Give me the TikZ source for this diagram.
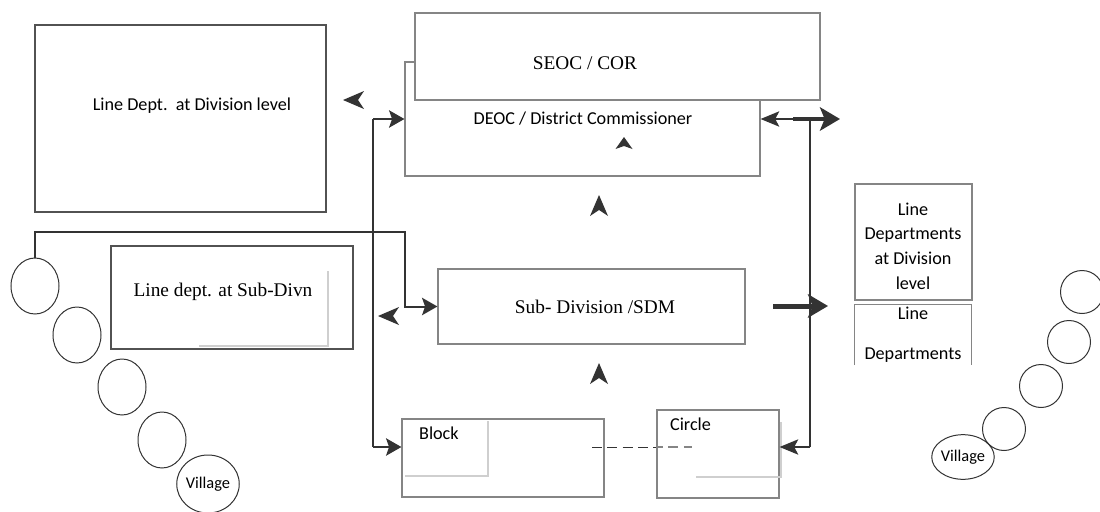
\documentclass[tikz,border=0pt]{standalone}
\usepackage{fontspec}
\setmainfont{Liberation Serif}
\newfontfamily\calibri{Carlito}
\usetikzlibrary{arrows.meta,positioning,fit,calc,shapes.geometric}
\definecolor{orgLine}{HTML}{333333}
\definecolor{orgGray}{HTML}{858585}
\definecolor{orgShade}{HTML}{CFCFCF}
\tikzset{
  % Office boxes: thin grey frame, white inside.
  org/box/.style={
    draw=orgGray, fill=white, line width=0.35mm, inner sep=0pt, text=black
  },
  org/serif/.style={font=\fontsize{16.5}{20}\selectfont},
  org/sans/.style={font=\calibri\fontsize{15.5}{21}\selectfont},
  % Villages along the chain.
  org/village/.style={
    draw=orgLine, ellipse, line width=0.3mm, inner sep=0pt,
    font=\calibri\fontsize{14}{16}\selectfont
  },
  % Links.
  org/link/.style={draw=orgLine, line width=0.6mm},
  org/arrow/.style={
    org/link, -{Stealth[length=4.6mm,width=5.2mm,inset=0.9mm]}
  },
  org/arrowD/.style={
    draw=orgLine, line width=0.4mm, -{Stealth[length=5.6mm,width=4.6mm,inset=1.2mm]}
  },
  org/arrowT/.style={
    draw=orgLine, line width=1.3mm, -{Stealth[length=6mm,width=7mm,inset=1.4mm]}
  },
  org/shade/.style={draw=orgShade, line width=0.35mm},
}

\begin{document}
\begin{tikzpicture}[x=0.3mm, y=-0.3mm,
  tiphead/.pic={\fill[orgLine] (0,0) -- (-21,9) -- (-15,0) -- (-21,-9) -- cycle;},
  tipsmall/.pic={\fill[orgLine] (0,0) -- (-12,8.5) -- (-9,0) -- (-12,-8.5) -- cycle;}]
\useasboundingbox (0,0) rectangle (1100,512);

% left column
\node[org/box, draw=orgLine!85, fit={(35,25) (326,212)}] (ldiv) {};
\node[org/sans] (ldivT) at (192,106) {Line Dept.\ \ at Division level};
\node[org/box, draw=orgLine!85, fit={(111,246) (353,349)}] (lsub) {};
\draw[org/shade] (199,346) -| (328,271);
\node[org/serif] (lsubT) at (223,292) {Line dept. at Sub-Divn};

\foreach \i/\x/\y in {1/35/286, 2/77/335, 3/122/387, 4/162/440}{
  \node[org/village, minimum width=14.4mm, minimum height=16.8mm] (vl\i) at (\x,\y) {};}
\node[org/village, minimum width=15mm, minimum height=17.4mm] (vl5) at (208,484) {Village};

% centre column
\node[org/box, fit={(405,62) (760,176)}] (deoc) {};
\node[org/sans] (deocT) at (583,119) {DEOC / District Commissioner};
\node[org/box, fit={(415,13) (820,100)}] (seoc) {};
\node[org/serif] (seocT) at (585,63) {SEOC / COR};
\node[org/box, fit={(438,269) (745,344)}] (sub) {};
\node[org/serif] (subT) at (595,307) {Sub- Division /SDM};
\node[org/box, fit={(402,419) (604,497)}] (block) {};
\draw[org/shade] (405,476) -| (488,421);
\node[org/sans, anchor=west] (blockT) at (415,433) {Block};
\node[org/box, fit={(657,410) (779,498)}] (circ) {};
\draw[org/shade] (696,477) -| (781,422);
\node[org/sans, anchor=west] (circT) at (666,424) {Circle};

% right column
\node[org/box, fit={(855,184) (972,300)}] (rdiv) {};
\node[org/sans, align=center] (rdivT) at (913,246)
     {Line\\Departments\\at Division\\level};
\node[fit={(855,305) (971,365)}, inner sep=0pt] (rdep) {};
\draw[draw=orgGray, line width=0.35mm] (rdep.south west) |- (rdep.north east) -- (rdep.south east);
\node[org/sans, align=center] (rdepT) at (913,335) {Line\\[13pt]Departments};

\foreach \i/\x/\y in {1/1082/292, 2/1069/342, 3/1041/386, 4/1004/429}{
  \node[org/village, minimum size=12.9mm] (vr\i) at (\x,\y) {};}
\node[org/village, minimum size=13.4mm] (vr5) at (963,457) {Village};

% connectors
\coordinate (lbusTop) at (373,119);
\coordinate (lbusBot) at (373,447);
\coordinate (hubR) at (405,232);
\draw[org/arrow] (vl1.north) |- (hubR) |- (sub.west);
\draw[org/link] (lbusTop) -- (lbusBot);
\draw[org/arrow] (lbusTop) -- (deoc.west);
\draw[org/arrow] (lbusBot) -- (block.west |- lbusBot);

\coordinate (rbusTop) at (810,119);
\coordinate (rbusBot) at (810,447);
\coordinate (dsplit) at (793,119);
\coordinate (deocOut) at (840,119);
\draw[draw=orgLine, line width=0.4mm] (rbusTop) -- (rbusBot);
\draw[org/arrowD] (rbusBot) -- (circ.east |- rbusBot);
\draw[org/arrowD] (dsplit) -- (deoc.east);
\draw[org/arrowT] (dsplit) -- (deocOut);

\coordinate (subOutA) at (773,306);
\coordinate (subOutB) at (828,306);
\draw[org/arrowT, line width=1.5mm] (subOutA) -- (subOutB);

\coordinate (dashA) at (592,447);
\coordinate (dashB) at (692,447);
\draw[draw=orgLine, line width=0.3mm, dash pattern=on 3mm off 1.6mm] (dashA) -- (circ.west |- dashA);
\draw[draw=orgGray, line width=0.6mm, dash pattern=on 3mm off 1.6mm, dash phase=1mm]
     (circ.west |- dashA) -- (dashB);

% loose arrowheads
\pic[rotate=180] at (343,100) {tiphead};
\pic[rotate=180] at (378,316) {tiphead};
\pic[rotate=90] at (599,195) {tiphead};
\pic[rotate=90] at (599,363) {tiphead};
\pic[rotate=90] at (624,137) {tipsmall};
\end{tikzpicture}
\end{document}
